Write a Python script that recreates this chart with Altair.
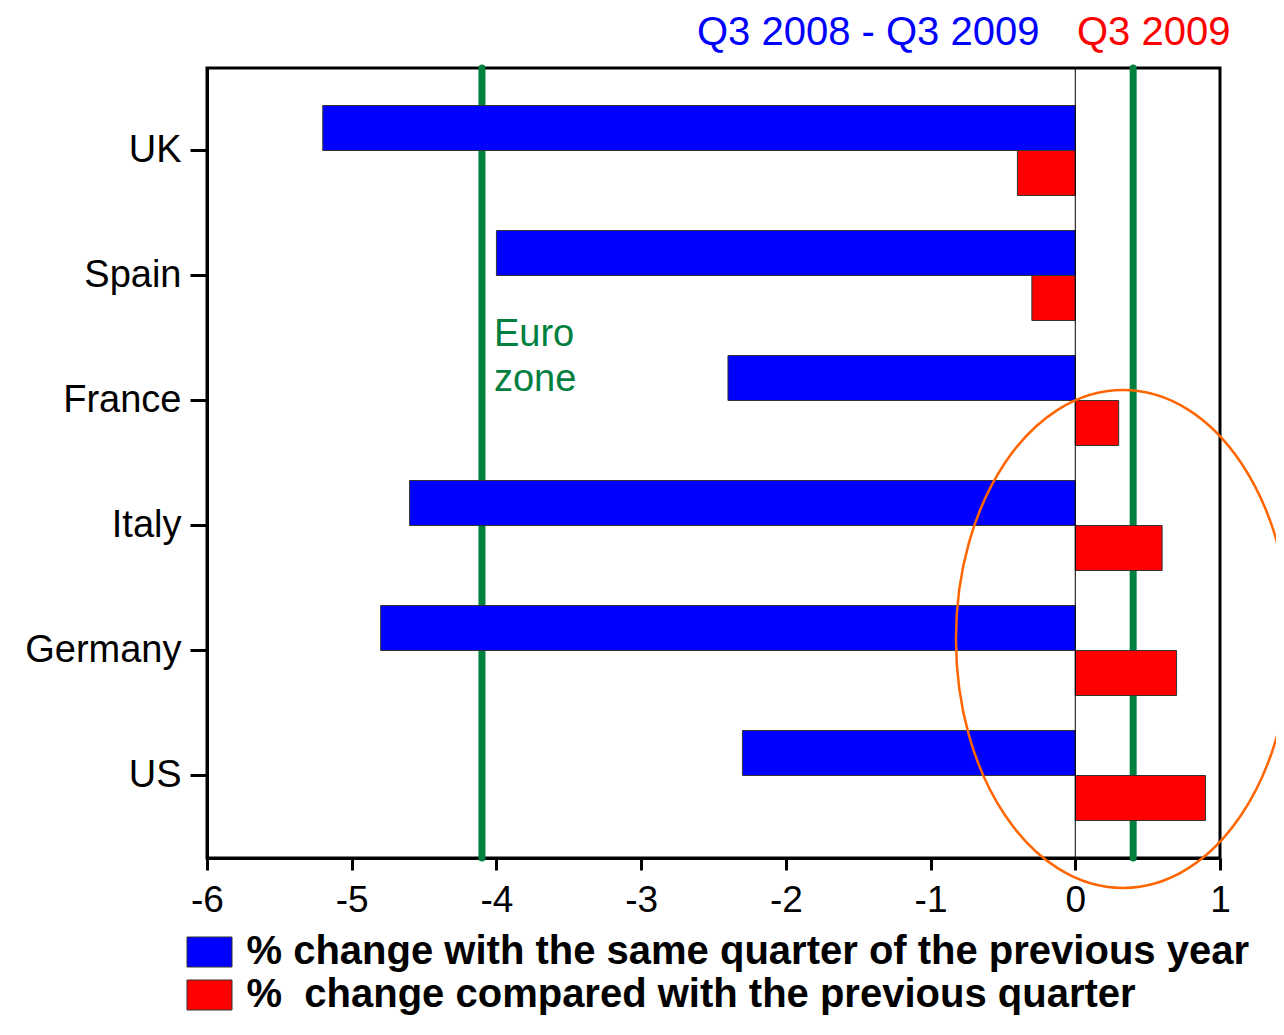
import altair as alt
import pandas as pd

countries = ["UK", "Spain", "France", "Italy", "Germany", "US"]
yoy_change = [-5.2, -4.0, -2.4, -4.6, -4.8, -2.3]
qoq_change = [-0.4, -0.3, 0.3, 0.6, 0.7, 0.9]
series_names = [
    "% change with the same quarter of the previous year",
    "% \u00a0change compared with the previous quarter",
]
series_colors = ["#0000FF", "#FF0000"]
euro_zone = [-4.1, 0.4]
x_ticks = [-6, -5, -4, -3, -2, -1, 0, 1]
headers = ["Q3 2008 - Q3 2009", "Q3 2009"]
header_colors = ["#0000FF", "#FF0000"]

FONT = "Liberation Sans"
GREEN = "#00803F"

rows = []
for i, c in enumerate(countries):
    rows.append({"country": c, "series": series_names[0], "order": 0, "value": yoy_change[i]})
    rows.append({"country": c, "series": series_names[1], "order": 1, "value": qoq_change[i]})
df = pd.DataFrame(rows)

xscale = alt.Scale(domain=[-6, 1], nice=False, zero=False)

rules = alt.Chart(pd.DataFrame({"x": euro_zone})).mark_rule(
    color=GREEN, strokeWidth=7, strokeCap="round"
).encode(x=alt.X("x:Q", scale=xscale))

bars = alt.Chart(df).mark_bar(stroke="#333333", strokeWidth=1).encode(
    y=alt.Y(
        "country:N",
        sort=countries,
        scale=alt.Scale(paddingInner=0.28, paddingOuter=0.3),
        axis=alt.Axis(
            title=None, labelFontSize=38, labelFont=FONT, labelColor="black",
            tickSize=17, tickWidth=3, tickColor="black",
            domainColor="black", domainWidth=3, labelPadding=9, grid=False,
        ),
    ),
    yOffset=alt.YOffset("order:O", scale=alt.Scale(paddingInner=0, paddingOuter=0)),
    x=alt.X(
        "value:Q",
        scale=xscale,
        axis=alt.Axis(
            title=None, values=x_ticks, labelExpr="'' + datum.value",
            labelFontSize=37, labelFont=FONT, labelColor="black", labelFlush=False,
            tickSize=12, tickWidth=3, tickColor="black",
            domainColor="black", domainWidth=3, labelPadding=12, grid=False,
        ),
    ),
    color=alt.Color(
        "series:N",
        sort=series_names,
        scale=alt.Scale(domain=series_names, range=series_colors),
        legend=alt.Legend(
            title=None, orient="none", legendX=-17.5, legendY=864,
            direction="vertical",
            symbolType="M-1.5,-1H1.5V1H-1.5Z", symbolSize=900,
            symbolStrokeColor="#333333", symbolStrokeWidth=1,
            labelFontSize=40, labelFontWeight="bold", labelFont=FONT,
            labelColor="black", labelLimit=3000, labelOffset=17,
            rowPadding=3, padding=0,
        ),
    ),
)

zero = alt.Chart(pd.DataFrame({"x": [0]})).mark_rule(color="black", strokeWidth=1).encode(
    x=alt.X("x:Q", scale=xscale)
)

euro_text = alt.Chart(pd.DataFrame({"x": [euro_zone[0]]})).mark_text(
    text=["Euro", "zone"], align="left", baseline="middle", dx=12,
    font=FONT, fontSize=38, color=GREEN, lineHeight=45,
).encode(x=alt.X("x:Q", scale=xscale), y=alt.value(267))

head1 = alt.Chart(pd.DataFrame({"t": [headers[0]]})).mark_text(
    align="left", baseline="middle", font=FONT, fontSize=40, color=header_colors[0]
).encode(text="t:N", x=alt.value(490), y=alt.value(-35))

head2 = alt.Chart(pd.DataFrame({"t": [headers[1]]})).mark_text(
    align="left", baseline="middle", font=FONT, fontSize=40, color=header_colors[1]
).encode(text="t:N", x=alt.value(870), y=alt.value(-35))

ellipse = alt.Chart(pd.DataFrame({"cx": [0.33]})).mark_point(
    shape="M0,-1A0.671,1 0 1,1 0,1A0.671,1 0 1,1 0,-1Z",
    size=248004, color="#FF6600", filled=False, strokeWidth=2.5, opacity=1,
).encode(x=alt.X("cx:Q", scale=xscale), y=alt.value(571))

chart = alt.layer(rules, bars, zero, euro_text, head1, head2, ellipse).properties(
    width=1013,
    height=790,
    background="white",
    padding={"left": 199, "top": 60, "right": 56, "bottom": 157},
    autosize=alt.AutoSizeParams(type="none"),
).configure_view(stroke="black", strokeWidth=3)

chart.save("out.html", embed_options={"renderer": "svg", "actions": False})
